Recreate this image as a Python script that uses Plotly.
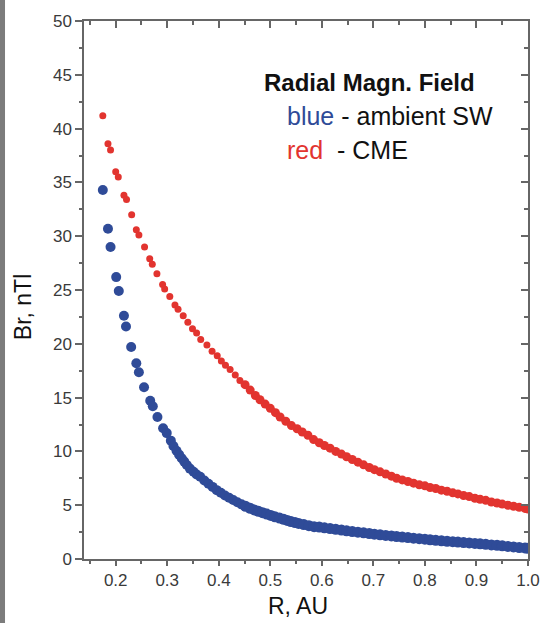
import plotly.graph_objects as go

# ---- data ----
RED_R = [0.175, 0.185, 0.190, 0.200, 0.205, 0.216, 0.221, 0.231, 0.240, 0.245,
         0.256, 0.266, 0.271, 0.280, 0.291, 0.295, 0.305, 0.315, 0.321, 0.331,
         0.340, 0.349, 0.357, 0.365, 0.377, 0.387, 0.397, 0.405, 0.413, 0.422,
         0.432, 0.441, 0.451, 0.461, 0.471, 0.480, 0.490, 0.500, 0.510, 0.519,
         0.530, 0.541, 0.552, 0.562, 0.573, 0.584, 0.595, 0.605, 0.616, 0.627,
         0.638, 0.648, 0.659, 0.670, 0.681, 0.692, 0.702, 0.713, 0.724, 0.735,
         0.745, 0.756, 0.767, 0.778, 0.789, 0.800, 0.810, 0.821, 0.832, 0.843,
         0.854, 0.864, 0.875, 0.886, 0.897, 0.907, 0.918, 0.929, 0.940, 0.950,
         0.961, 0.972, 0.983, 0.994, 1.000]
RED_B = [41.2, 38.6, 38.0, 36.0, 35.5, 33.8, 33.4, 32.0, 30.6, 30.1,
         29.0, 27.9, 27.4, 26.5, 25.5, 25.1, 24.4, 23.6, 23.2, 22.6,
         22.0, 21.4, 21.0, 20.4, 19.9, 19.3, 18.9, 18.4, 18.0, 17.6,
         17.1, 16.6, 16.2, 15.7, 15.2, 14.8, 14.4, 14.0, 13.6, 13.2,
         12.8, 12.4, 12.1, 11.8, 11.5, 11.1, 10.8, 10.55, 10.3, 10.0,
         9.75, 9.5, 9.25, 9.0, 8.75, 8.5, 8.3, 8.1, 7.9, 7.7,
         7.5, 7.35, 7.2, 7.05, 6.9, 6.8, 6.65, 6.55, 6.4, 6.3,
         6.15, 6.05, 5.9, 5.8, 5.65, 5.55, 5.45, 5.3, 5.2, 5.1,
         5.0, 4.9, 4.8, 4.7, 4.65]

BLUE_R = [0.175, 0.185, 0.190, 0.201, 0.206, 0.216, 0.220, 0.230, 0.240, 0.245,
          0.255, 0.267, 0.272, 0.281, 0.292, 0.299, 0.307, 0.312, 0.318, 0.323,
          0.328, 0.333, 0.338, 0.344, 0.351, 0.357, 0.364, 0.372, 0.380, 0.388,
          0.396, 0.404, 0.412, 0.420, 0.428, 0.436, 0.444, 0.452, 0.461, 0.469,
          0.477, 0.485, 0.493, 0.501, 0.509, 0.518, 0.526, 0.533, 0.540, 0.548,
          0.555, 0.565, 0.575, 0.585, 0.595, 0.605, 0.616, 0.627, 0.638, 0.648,
          0.659, 0.670, 0.681, 0.692, 0.702, 0.713, 0.724, 0.735, 0.745, 0.756,
          0.767, 0.778, 0.789, 0.800, 0.810, 0.821, 0.832, 0.843, 0.854, 0.864,
          0.875, 0.886, 0.897, 0.907, 0.918, 0.929, 0.940, 0.950, 0.961, 0.972,
          0.983, 0.994, 1.000]
BLUE_B = [34.3, 30.7, 29.0, 26.2, 24.9, 22.6, 21.6, 19.7, 18.2, 17.35,
          15.96, 14.7, 14.2, 13.2, 12.15, 11.7, 11.0, 10.5, 10.06, 9.7,
          9.36, 9.05, 8.74, 8.4, 8.11, 7.85, 7.65, 7.3, 7.0, 6.7,
          6.4, 6.15, 5.9, 5.7, 5.48, 5.28, 5.08, 4.9, 4.71, 4.56,
          4.43, 4.3, 4.18, 4.05, 3.92, 3.8, 3.69, 3.58, 3.48, 3.39,
          3.31, 3.2, 3.1, 3.0, 2.97, 2.9, 2.83, 2.76, 2.69, 2.62,
          2.55, 2.49, 2.43, 2.37, 2.31, 2.25, 2.19, 2.14, 2.09, 2.04,
          1.99, 1.94, 1.89, 1.84, 1.79, 1.74, 1.69, 1.65, 1.61, 1.57,
          1.53, 1.49, 1.45, 1.41, 1.36, 1.31, 1.27, 1.22, 1.17, 1.12,
          1.07, 1.03, 1.0]

X_RANGE = [0.1385, 1.0]
Y_RANGE = [0, 50]

BLUE = "#2f4b98"
RED = "#e2342f"
AXIS = "#666666"
FONT = "Liberation Sans, Arial, sans-serif"

# in the dense (outer) part the reference dots merge into a thicker band
red_sizes = [7 if r < 0.45 else 9 for r in RED_R]
blue_sizes = [10 if r < 0.45 else 11 for r in BLUE_R]

fig = go.Figure()
fig.add_trace(go.Scatter(x=RED_R, y=RED_B, mode="markers",
                         marker=dict(color=RED, size=red_sizes, opacity=1,
                                     line=dict(width=0)),
                         hoverinfo="skip", showlegend=False))
fig.add_trace(go.Scatter(x=BLUE_R, y=BLUE_B, mode="markers",
                         marker=dict(color=BLUE, size=blue_sizes, opacity=1,
                                     line=dict(width=0)),
                         hoverinfo="skip", showlegend=False))
# invisible trace to activate the mirrored (top/right) axes
fig.add_trace(go.Scatter(x=[RED_R[0]], y=[RED_B[0]], xaxis="x2", yaxis="y2",
                         mode="markers", marker=dict(opacity=0),
                         hoverinfo="skip", showlegend=False))

tickfont = dict(family=FONT, size=17, color="#3a3a3a")

fig.update_layout(
    width=541, height=623,
    margin=dict(l=84, r=13, t=21, b=64, autoexpand=False),
    paper_bgcolor="white", plot_bgcolor="white",
    showlegend=False,
    xaxis=dict(range=X_RANGE, dtick=0.1, tick0=0.0, tickformat=".1f",
               automargin=False,
               showgrid=False, zeroline=False, showline=True,
               linecolor=AXIS, linewidth=1.5,
               ticks="outside", ticklen=5, tickwidth=1.5, tickcolor=AXIS,
               minor=dict(ticks="outside", ticklen=3, tickwidth=1.5,
                          tickcolor=AXIS, dtick=0.05, tick0=0.0, showgrid=False),
               tickfont=tickfont),
    yaxis=dict(range=Y_RANGE, dtick=5, tick0=0, automargin=False,
               showgrid=False, zeroline=False, showline=True,
               linecolor=AXIS, linewidth=1.5,
               ticks="outside", ticklen=7, tickwidth=1.5, tickcolor=AXIS,
               minor=dict(ticks="outside", ticklen=3, tickwidth=1.5,
                          tickcolor=AXIS, dtick=2.5, tick0=0, showgrid=False),
               tickfont=tickfont),
    xaxis2=dict(range=X_RANGE, overlaying="x", side="top", anchor="y2",
                dtick=0.1, tick0=0.0, showticklabels=False, automargin=False,
                showgrid=False, zeroline=False, showline=True,
                linecolor=AXIS, linewidth=1.5,
                ticks="inside", ticklen=7, tickwidth=1.5, tickcolor=AXIS,
                minor=dict(ticks="inside", ticklen=4, tickwidth=1.5,
                           tickcolor=AXIS, dtick=0.05, tick0=0.0, showgrid=False)),
    yaxis2=dict(range=Y_RANGE, overlaying="y", side="right", anchor="x2",
                dtick=5, tick0=0, showticklabels=False, automargin=False,
                showgrid=False, zeroline=False, showline=True,
                linecolor=AXIS, linewidth=1.5,
                ticks="inside", ticklen=7, tickwidth=1.5, tickcolor=AXIS,
                minor=dict(ticks="inside", ticklen=4, tickwidth=1.5,
                           tickcolor=AXIS, dtick=2.5, tick0=0, showgrid=False)),
    shapes=[dict(type="rect", xref="paper", yref="paper",
                 x0=-0.25, x1=-0.1779, y0=-0.3, y1=1.2,
                 fillcolor="#7c7c7c", line=dict(width=0), layer="below")],
    annotations=[
        dict(text="<b>Radial Magn. Field</b>", xref="paper", yref="paper",
             x=0.400, y=0.885, xanchor="left", yanchor="middle", showarrow=False,
             font=dict(family=FONT, size=24, color="#111111")),
        dict(text=f"<span style='color:{BLUE}'>blue</span> - ambient SW",
             xref="paper", yref="paper",
             x=0.452, y=0.823, xanchor="left", yanchor="middle", showarrow=False,
             font=dict(family=FONT, size=25, color="#111111")),
        dict(text=f"<span style='color:{RED}'>red</span>  - CME",
             xref="paper", yref="paper",
             x=0.452, y=0.760, xanchor="left", yanchor="middle", showarrow=False,
             font=dict(family=FONT, size=25, color="#111111")),
        dict(text="R, AU", xref="paper", yref="paper",
             x=0.482, y=-0.0874, xanchor="center", yanchor="middle",
             showarrow=False, font=dict(family=FONT, size=23, color="#111111")),
        dict(text="Br, nTl", xref="paper", yref="paper",
             x=-0.1374, y=0.468, xanchor="center", yanchor="middle",
             textangle=-90, showarrow=False,
             font=dict(family=FONT, size=23, color="#111111")),
    ],
)

fig.write_html("out.html")
